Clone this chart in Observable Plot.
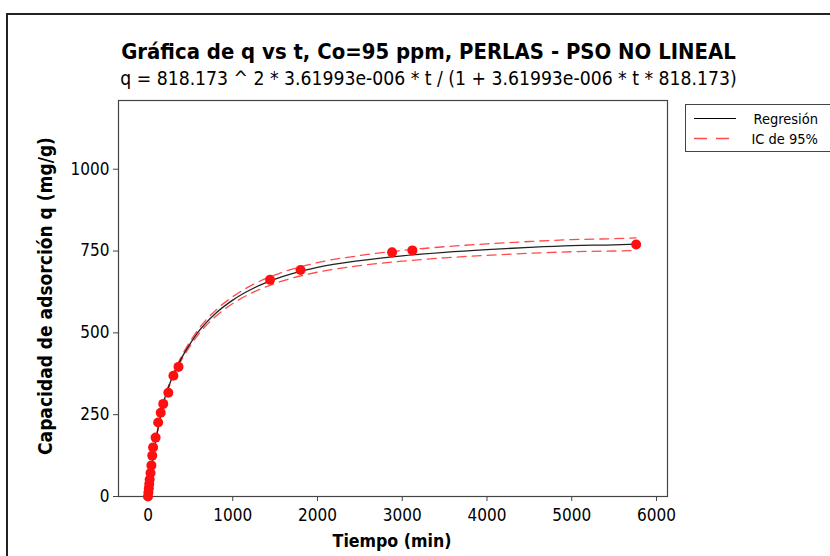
<!DOCTYPE html>
<html><head><meta charset="utf-8">
<script src="https://cdn.jsdelivr.net/npm/d3@7"></script>
<script src="https://cdn.jsdelivr.net/npm/@observablehq/plot@0.6"></script>
<style>
body{margin:0;background:#fff;}
#wrap{position:relative;width:830px;height:556px;overflow:hidden;font-family:"DejaVu Sans Condensed","DejaVu Sans",sans-serif;color:#000;}
#border{position:absolute;left:6px;top:13px;width:900px;height:700px;border:2px solid #222;}
#title{position:absolute;left:0;top:39px;width:857px;text-align:center;font-weight:bold;font-size:21.9px;}
#subtitle{position:absolute;left:0;top:67px;width:857px;text-align:center;font-size:19.2px;}
#chart{position:absolute;left:0;top:0;}
#xlabel{position:absolute;left:292px;width:200px;top:531px;text-align:center;font-weight:bold;font-size:17.6px;}
#ylabel{position:absolute;left:-155px;width:400px;top:285px;text-align:center;font-weight:bold;font-size:19px;transform:rotate(-90deg);}
#legend{position:absolute;left:685px;top:104px;width:160px;height:46px;border:1px solid #444;}
</style></head><body><div id="wrap">
<div id="border"></div>
<div id="chart"></div>
<div id="title">Gráfica de q vs t, Co=95 ppm, PERLAS - PSO NO LINEAL</div>
<div id="subtitle">q = 818.173 ^ 2 * 3.61993e-006 * t / (1 + 3.61993e-006 * t * 818.173)</div>
<div id="xlabel">Tiempo (min)</div>
<div id="ylabel">Capacidad de adsorción q (mg/g)</div>
<div id="legend">
<svg width="160" height="46" style="position:absolute;left:0;top:0">
<line x1="8" x2="50" y1="13.5" y2="13.5" stroke="#000" stroke-width="1.2"/>
<line x1="8" x2="50" y1="33.5" y2="33.5" stroke="#ff4a4a" stroke-width="1.3" stroke-dasharray="13,9"/>
<text x="132" y="18.5" text-anchor="end" font-size="14.5">Regresión</text>
<text x="132" y="38.5" text-anchor="end" font-size="14.5">IC de 95%</text>
</svg>
</div>
</div>
<script>
// Observed points: time (min) and q (mg/g)
const pointT = [0, 5, 10, 15, 20, 30, 40, 50, 60, 90, 120, 150, 180, 240, 300, 360, 1440, 1800, 2880, 3120, 5760];
const pointQ = [0, 12, 25, 38, 52, 72, 95, 125, 150, 180, 226, 256, 283, 317, 369, 396, 662, 692, 746, 752, 770];

// Fitted curve and 95% CI, tabulated (values read at these times)
const curveT = [0, 10, 25, 50, 75, 100, 150, 200, 250, 300, 400, 500, 600, 800, 1000, 1250, 1500, 2000, 2500, 3000, 3500, 4000, 4500, 5000, 5500, 5760];
const fitQ   = [0, 23.5, 56, 104, 146, 183, 248, 302, 340, 372, 425, 468, 505, 560, 600, 637, 664, 700, 720.8, 735.4, 746.2, 754.5, 761.1, 766.4, 769.0, 771.0];
const upperQ = [0, 23.8, 56.7, 105.3, 147.8, 185.3, 251, 305.7, 344.3, 377, 431, 475, 513, 569.3, 610.5, 649, 677, 714.5, 736.3, 751.7, 763.2, 772, 779.1, 784.9, 787.8, 790];
const lowerQ = [0, 23.2, 55.3, 102.7, 144.2, 180.7, 245, 298.3, 335.7, 367, 419, 461, 497, 550.7, 589.5, 625, 651, 685.5, 705.3, 719.1, 729.2, 737, 743.1, 747.9, 750.2, 752];

const xTicks = [0, 1000, 2000, 3000, 4000, 5000, 6000];
const yTicks = [0, 250, 500, 750, 1000];

const points = pointT.map((t, i) => ({t, q: pointQ[i]}));
const curve = curveT.map((t, i) => ({t, fit: fitQ[i], up: upperQ[i], lo: lowerQ[i]}));

const font = '"DejaVu Sans Condensed","DejaVu Sans",sans-serif';
const chart = Plot.plot({
  width: 830, height: 556,
  marginLeft: 118, marginRight: 163, marginTop: 100, marginBottom: 60,
  style: {fontFamily: font, fontSize: "17px", color: "#000", background: "transparent", overflow: "visible"},
  x: {domain: [-348, 6130]},
  y: {domain: [0, 1210]},
  marks: [
    Plot.axisX({ticks: xTicks, tickSize: 5, tickPadding: 7, tickFormat: d => String(d), label: null, fontSize: 17, stroke: "#444"}),
    Plot.axisY({ticks: yTicks, tickSize: 5, tickPadding: 4, tickFormat: d => String(d), label: null, fontSize: 17, stroke: "#444"}),
    Plot.frame({stroke: "#444", strokeWidth: 1.2}),
    Plot.line(curve, {x: "t", y: "up", stroke: "#ff4a4a", strokeWidth: 1.3, strokeDasharray: "9,6", curve: "monotone-x"}),
    Plot.line(curve, {x: "t", y: "lo", stroke: "#ff4a4a", strokeWidth: 1.3, strokeDasharray: "9,6", curve: "monotone-x"}),
    Plot.line(curve, {x: "t", y: "fit", stroke: "#222", strokeWidth: 1.3, curve: "monotone-x"}),
    Plot.dot(points, {x: "t", y: "q", r: 5, fill: "#ff1010", stroke: "none"})
  ]
});
document.getElementById("chart").appendChild(chart);
</script>
</body></html>
